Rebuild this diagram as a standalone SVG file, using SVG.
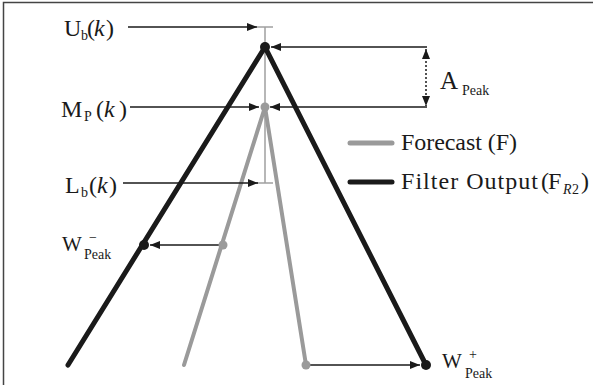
<svg xmlns="http://www.w3.org/2000/svg" width="593" height="385" viewBox="0 0 593 385">
<defs>
<style>
text{font-family:"Liberation Serif","Times New Roman",serif;fill:#1a1a1a}
.lbl{font-size:24px}
.sub{font-size:14px}
.thick{fill:none;stroke:#1a1a1a;stroke-width:5;stroke-linecap:round}
.gthick{fill:none;stroke:#9a9a9a;stroke-width:4;stroke-linecap:round}
.arr{fill:none;stroke:#1a1a1a;stroke-width:1.5}
.bar{fill:none;stroke:#a0a0a0;stroke-width:1.5}
</style>
<marker id="ah" viewBox="0 0 10 8" refX="10" refY="4" markerWidth="10" markerHeight="8" markerUnits="userSpaceOnUse" orient="auto-start-reverse">
<path d="M0,0 L10,4 L0,8 Z" fill="#1a1a1a"/>
</marker>
</defs>
<rect width="593" height="385" fill="#ffffff"/>
<path d="M3.5,394 V2.5 H600" fill="none" stroke="#444" stroke-width="1.5"/>

<g id="errorbar">
<path class="bar" d="M265,27 V183 M257,27 H273 M257,183 H273"/>
</g>

<g id="filter-output">
<path class="thick" d="M68,365 L265,47 L426,365"/>
</g>
<g id="forecast">
<path class="gthick" d="M184,365 L265,107 L306,365"/>
</g>

<g id="connectors">
<line class="arr" x1="128" y1="27" x2="257" y2="27" marker-end="url(#ah)"/>
<line class="arr" x1="130" y1="107" x2="259" y2="107" marker-end="url(#ah)"/>
<line class="arr" x1="123" y1="183" x2="258" y2="183" marker-end="url(#ah)"/>
<line class="arr" x1="427" y1="47" x2="271" y2="47" marker-end="url(#ah)"/>
<line class="arr" x1="427" y1="107" x2="270" y2="107" marker-end="url(#ah)"/>
<line class="arr" x1="426" y1="49" x2="426" y2="106" stroke-dasharray="2,2" marker-start="url(#ah)" marker-end="url(#ah)"/>
<line class="arr" x1="222" y1="245" x2="150" y2="245" marker-end="url(#ah)"/>
<line class="arr" x1="307" y1="365" x2="420" y2="365" marker-end="url(#ah)"/>
</g>

<g id="points">
<circle cx="265" cy="47" r="5" fill="#1a1a1a"/>
<circle cx="265" cy="107" r="4.5" fill="#9a9a9a"/>
<circle cx="144" cy="245" r="5" fill="#1a1a1a"/>
<circle cx="223" cy="245" r="4.5" fill="#9a9a9a"/>
<circle cx="306" cy="365" r="4.5" fill="#9a9a9a"/>
<circle cx="426" cy="365" r="5" fill="#1a1a1a"/>
</g>

<g id="label-ub">
<text class="lbl" y="36"><tspan x="64">U</tspan><tspan class="sub" x="81" y="40">b</tspan><tspan x="87" y="36">(</tspan><tspan x="94" font-style="italic">k</tspan><tspan x="106">)</tspan></text>
</g>
<g id="label-mp">
<text class="lbl" y="117"><tspan x="61">M</tspan><tspan class="sub" x="84" y="121">P</tspan><tspan x="96" y="117">(</tspan><tspan x="104" font-style="italic">k</tspan><tspan x="119">)</tspan></text>
</g>
<g id="label-lb">
<text class="lbl" y="193"><tspan x="65">L</tspan><tspan class="sub" x="81" y="197">b</tspan><tspan x="89" y="193">(</tspan><tspan x="97" font-style="italic">k</tspan><tspan x="109">)</tspan></text>
</g>
<g id="label-wminus">
<text font-size="21" x="62" y="251">W</text>
<text class="sub" x="89" y="242">−</text>
<text class="sub" x="84" y="259">Peak</text>
</g>
<g id="label-apeak">
<text font-size="25" x="440" y="89">A</text>
<text class="sub" x="462" y="95">Peak</text>
</g>
<g id="label-wplus">
<text font-size="21" x="442" y="368">W</text>
<text class="sub" x="469" y="359">+</text>
<text class="sub" x="465" y="378">Peak</text>
</g>

<g id="legend">
<line x1="350" y1="143" x2="392" y2="143" stroke="#9a9a9a" stroke-width="5" stroke-linecap="round"/>
<text class="lbl" x="401" y="150" textLength="116">Forecast (F)</text>
<line x1="350" y1="182" x2="392" y2="182" stroke="#1a1a1a" stroke-width="5" stroke-linecap="round"/>
<text class="lbl" x="401" y="189" textLength="137">Filter Output</text>
<text class="lbl" y="189"><tspan x="541">(</tspan><tspan x="548">F</tspan><tspan class="sub" x="563" y="194" font-style="italic">R</tspan><tspan class="sub" x="572" y="194">2</tspan><tspan x="581" y="189">)</tspan></text>
</g>
</svg>
